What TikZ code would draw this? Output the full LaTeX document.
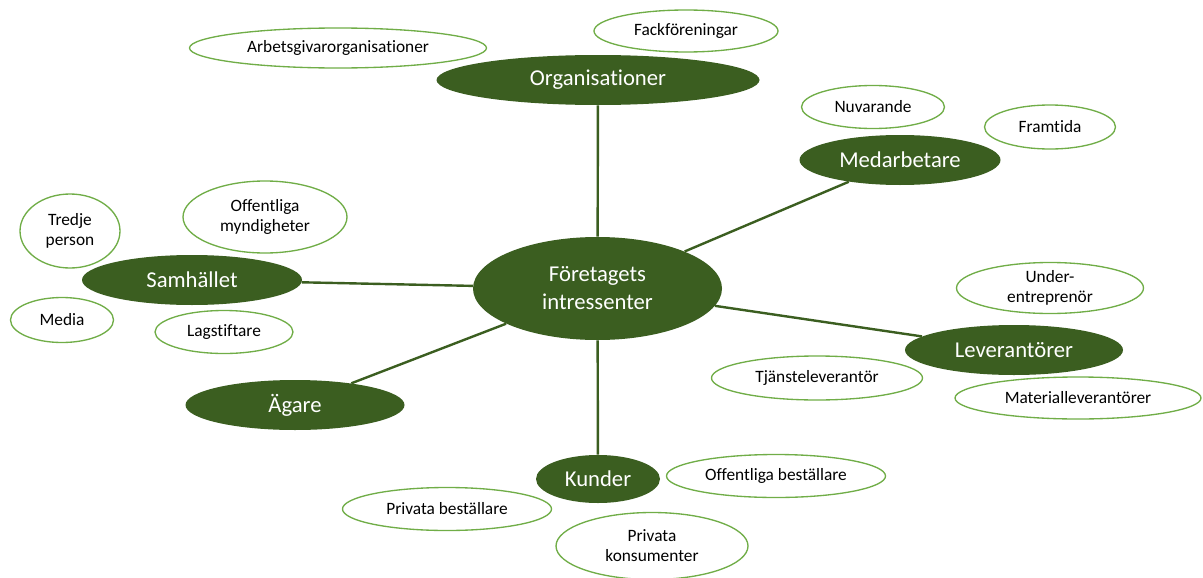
\documentclass[tikz,border=0pt]{standalone}
\usepackage{fontspec}
\setmainfont{Carlito}[Ligatures=NoCommon]
\usetikzlibrary{shapes.geometric}
\definecolor{darkgreen}{HTML}{3B5E20}
\definecolor{lightgreen}{HTML}{70AD47}
\tikzset{
  main/.style={ellipse, fill=darkgreen, text=white, inner sep=0pt,
    font=\fontsize{17}{21}\selectfont, align=center},
  sub/.style={ellipse, draw=lightgreen, line width=1pt, fill=white, text=black,
    inner sep=0pt, font=\fontsize{13}{15}\selectfont, align=center},
  link/.style={draw=darkgreen, line width=1.8pt}
}
\begin{document}
\begin{tikzpicture}[x=0.75pt, y=-0.75pt]
  \useasboundingbox (0,0) rectangle (1203,578);
  % main nodes
  \node[main, minimum width=186.75pt, minimum height=77.25pt] (center) at (597.5,288.5) {Företagets\\intressenter};
  \node[main, minimum width=242.25pt, minimum height=37.5pt] (org) at (598,80) {Organisationer};
  \node[main, minimum width=150.75pt, minimum height=37.5pt] (medarb) at (900,160) {Medarbetare};
  \node[main, minimum width=165pt, minimum height=37.5pt] (samh) at (192,280) {Samhället};
  \node[main, minimum width=164.25pt, minimum height=37.5pt] (agare) at (295,405) {Ägare};
  \node[main, minimum width=93pt, minimum height=36pt] (kunder) at (598,479) {Kunder};
  \node[main, minimum width=163.5pt, minimum height=37.5pt] (lev) at (1014,350) {Leverantörer};
  % links
  \begin{scope}[link]
    \draw (center) -- (org);
    \draw (center) -- (medarb);
    \draw (center) -- (samh);
    \draw (center) -- (agare);
    \draw (center) -- (kunder);
    \draw (center) -- (lev);
  \end{scope}
  % sub nodes
  \node[sub, minimum width=222.75pt, minimum height=30pt] (arbgiv) at (338,48) {Arbetsgivarorganisationer};
  \node[sub, minimum width=138pt, minimum height=31.5pt] (fack) at (686,31) {Fackföreningar};
  \node[sub, minimum width=107.25pt, minimum height=32.25pt] (nuv) at (873,107) {Nuvarande};
  \node[sub, minimum width=98.25pt, minimum height=33pt] (framt) at (1050,127) {Framtida};
  \node[sub, minimum width=75pt, minimum height=55.5pt] (tredje) at (70,231) {Tredje\\person};
  \node[sub, minimum width=123pt, minimum height=54pt] (offmynd) at (265,217) {Offentliga\\myndigheter};
  \node[sub, minimum width=77.25pt, minimum height=33.75pt] (media) at (62,320) {Media};
  \node[sub, minimum width=103.5pt, minimum height=32.25pt] (lagst) at (224,332) {Lagstiftare};
  \node[sub, minimum width=140.25pt, minimum height=38.25pt] (underentr) at (1050,288) {Under-\\entreprenör};
  \node[sub, minimum width=158.25pt, minimum height=33pt] (tjanst) at (817,378) {Tjänsteleverantör};
  \node[sub, minimum width=184.5pt, minimum height=31.5pt] (material) at (1078,398) {Materialleverantörer};
  \node[sub, minimum width=164.25pt, minimum height=32.25pt] (offbest) at (776,476) {Offentliga beställare};
  \node[sub, minimum width=156.75pt, minimum height=32.25pt] (privbest) at (447,509) {Privata beställare};
  \node[sub, minimum width=144pt, minimum height=50.25pt] (privkons) at (652,546) {Privata\\konsumenter};
\end{tikzpicture}
\end{document}
